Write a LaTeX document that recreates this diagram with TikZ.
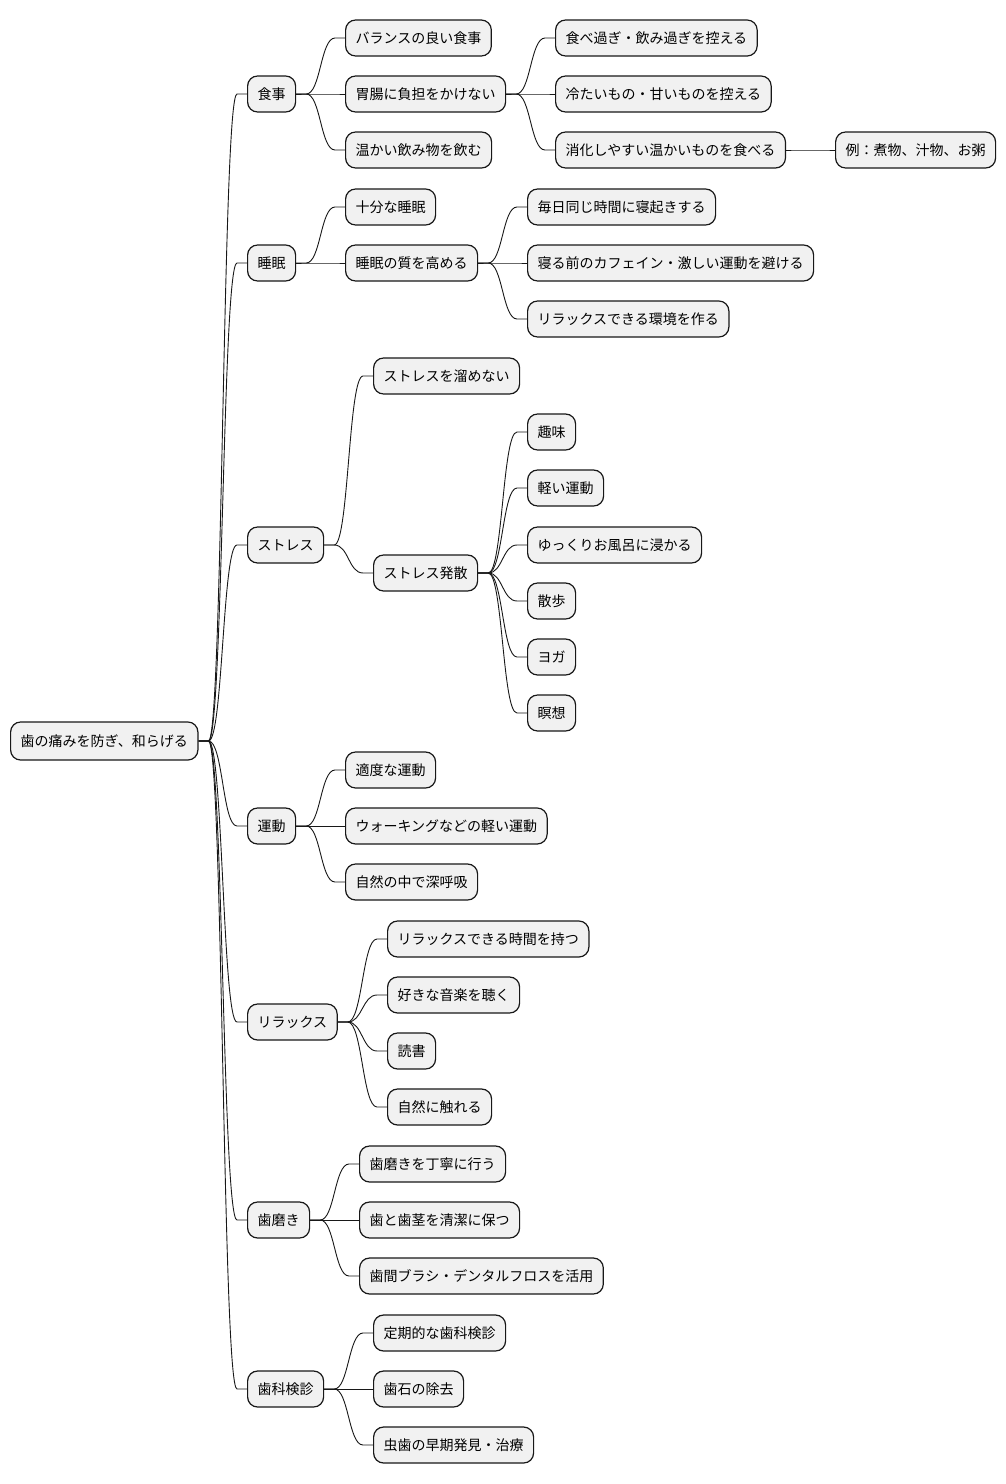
\documentclass[tikz,border=0pt]{standalone}
\usepackage{fontspec}
\setmainfont{Noto Sans CJK JP}
\usetikzlibrary{positioning,calc}
\definecolor{boxfill}{HTML}{F1F1F1}
\definecolor{boxline}{HTML}{181818}
\tikzset{
  topic/.style = {draw=boxline, fill=boxfill, line width=1.2pt, rounded corners=10pt, anchor=west,
                  minimum height=36pt, inner xsep=10pt, inner ysep=0pt, text=black,
                  font=\fontsize{14}{16}\selectfont},
  link/.style  = {draw=boxline, line width=0.9pt},
}

\begin{document}
\begin{tikzpicture}[x=1pt,y=-1pt]
\path[use as bounding box, fill=white] (0,0) rectangle (1006,1484);

% ---- root and first level ----------------------------------------------
\node[topic, minimum height=38pt] (root) at (10,741) {歯の痛みを防ぎ、和らげる};
\node[topic] (food)     at (247,94)   {食事};
\node[topic] (sleep)    at (247,263)  {睡眠};
\node[topic] (stress)   at (247,545)  {ストレス};
\node[topic] (exercise) at (247,826)  {運動};
\node[topic] (relax)    at (247,1022) {リラックス};
\node[topic] (brush)    at (247,1220) {歯磨き};
\node[topic] (checkup)  at (247,1389) {歯科検診};

% ---- food ---------------------------------------------------------------
\node[topic] (food1) at (345,38)  {バランスの良い食事};
\node[topic] (food2) at (345,94)  {胃腸に負担をかけない};
\node[topic] (food3) at (345,150) {温かい飲み物を飲む};
\node[topic] (gut1)  at (555,38)  {食べ過ぎ・飲み過ぎを控える};
\node[topic] (gut2)  at (555,94)  {冷たいもの・甘いものを控える};
\node[topic] (gut3)  at (555,150) {消化しやすい温かいものを食べる};
\node[topic] (gutex) at (835,150) {例：煮物、汁物、お粥};

% ---- sleep --------------------------------------------------------------
\node[topic] (sleep1) at (345,207) {十分な睡眠};
\node[topic] (sleep2) at (345,263) {睡眠の質を高める};
\node[topic] (qual1)  at (527,207) {毎日同じ時間に寝起きする};
\node[topic] (qual2)  at (527,263) {寝る前のカフェイン・激しい運動を避ける};
\node[topic] (qual3)  at (527,319) {リラックスできる環境を作る};

% ---- stress -------------------------------------------------------------
\node[topic] (stress1) at (373,376) {ストレスを溜めない};
\node[topic] (stress2) at (373,573) {ストレス発散};
\node[topic] (rel1) at (527,432) {趣味};
\node[topic] (rel2) at (527,488) {軽い運動};
\node[topic] (rel3) at (527,545) {ゆっくりお風呂に浸かる};
\node[topic] (rel4) at (527,601) {散歩};
\node[topic] (rel5) at (527,657) {ヨガ};
\node[topic] (rel6) at (527,713) {瞑想};

% ---- exercise -----------------------------------------------------------
\node[topic] (ex1) at (345,770) {適度な運動};
\node[topic] (ex2) at (345,826) {ウォーキングなどの軽い運動};
\node[topic] (ex3) at (345,882) {自然の中で深呼吸};

% ---- relax --------------------------------------------------------------
\node[topic] (rx1) at (387,939)  {リラックスできる時間を持つ};
\node[topic] (rx2) at (387,995)  {好きな音楽を聴く};
\node[topic] (rx3) at (387,1051) {読書};
\node[topic] (rx4) at (387,1107) {自然に触れる};

% ---- brushing -----------------------------------------------------------
\node[topic] (br1) at (359,1164) {歯磨きを丁寧に行う};
\node[topic] (br2) at (359,1220) {歯と歯茎を清潔に保つ};
\node[topic] (br3) at (359,1276) {歯間ブラシ・デンタルフロスを活用};

% ---- checkup ------------------------------------------------------------
\node[topic] (ck1) at (373,1333) {定期的な歯科検診};
\node[topic] (ck2) at (373,1389) {歯石の除去};
\node[topic] (ck3) at (373,1445) {虫歯の早期発見・治療};

% ---- branches -----------------------------------------------------------
\foreach \p/\c in {root/food, root/sleep, root/stress, root/exercise, root/relax, root/brush, root/checkup,
    food/food1, food/food2, food/food3, food2/gut1, food2/gut2, food2/gut3, gut3/gutex,
    sleep/sleep1, sleep/sleep2, sleep2/qual1, sleep2/qual2, sleep2/qual3,
    stress/stress1, stress/stress2, stress2/rel1, stress2/rel2, stress2/rel3, stress2/rel4, stress2/rel5, stress2/rel6,
    exercise/ex1, exercise/ex2, exercise/ex3,
    relax/rx1, relax/rx2, relax/rx3, relax/rx4,
    brush/br1, brush/br2, brush/br3,
    checkup/ck1, checkup/ck2, checkup/ck3}
  \draw[link] (\p.east) -- ++(10,0) .. controls +(14.5,0) and +(-14.5,0) .. ($(\c.west)+(-10,0)$) -- (\c.west);

\end{tikzpicture}
\end{document}
